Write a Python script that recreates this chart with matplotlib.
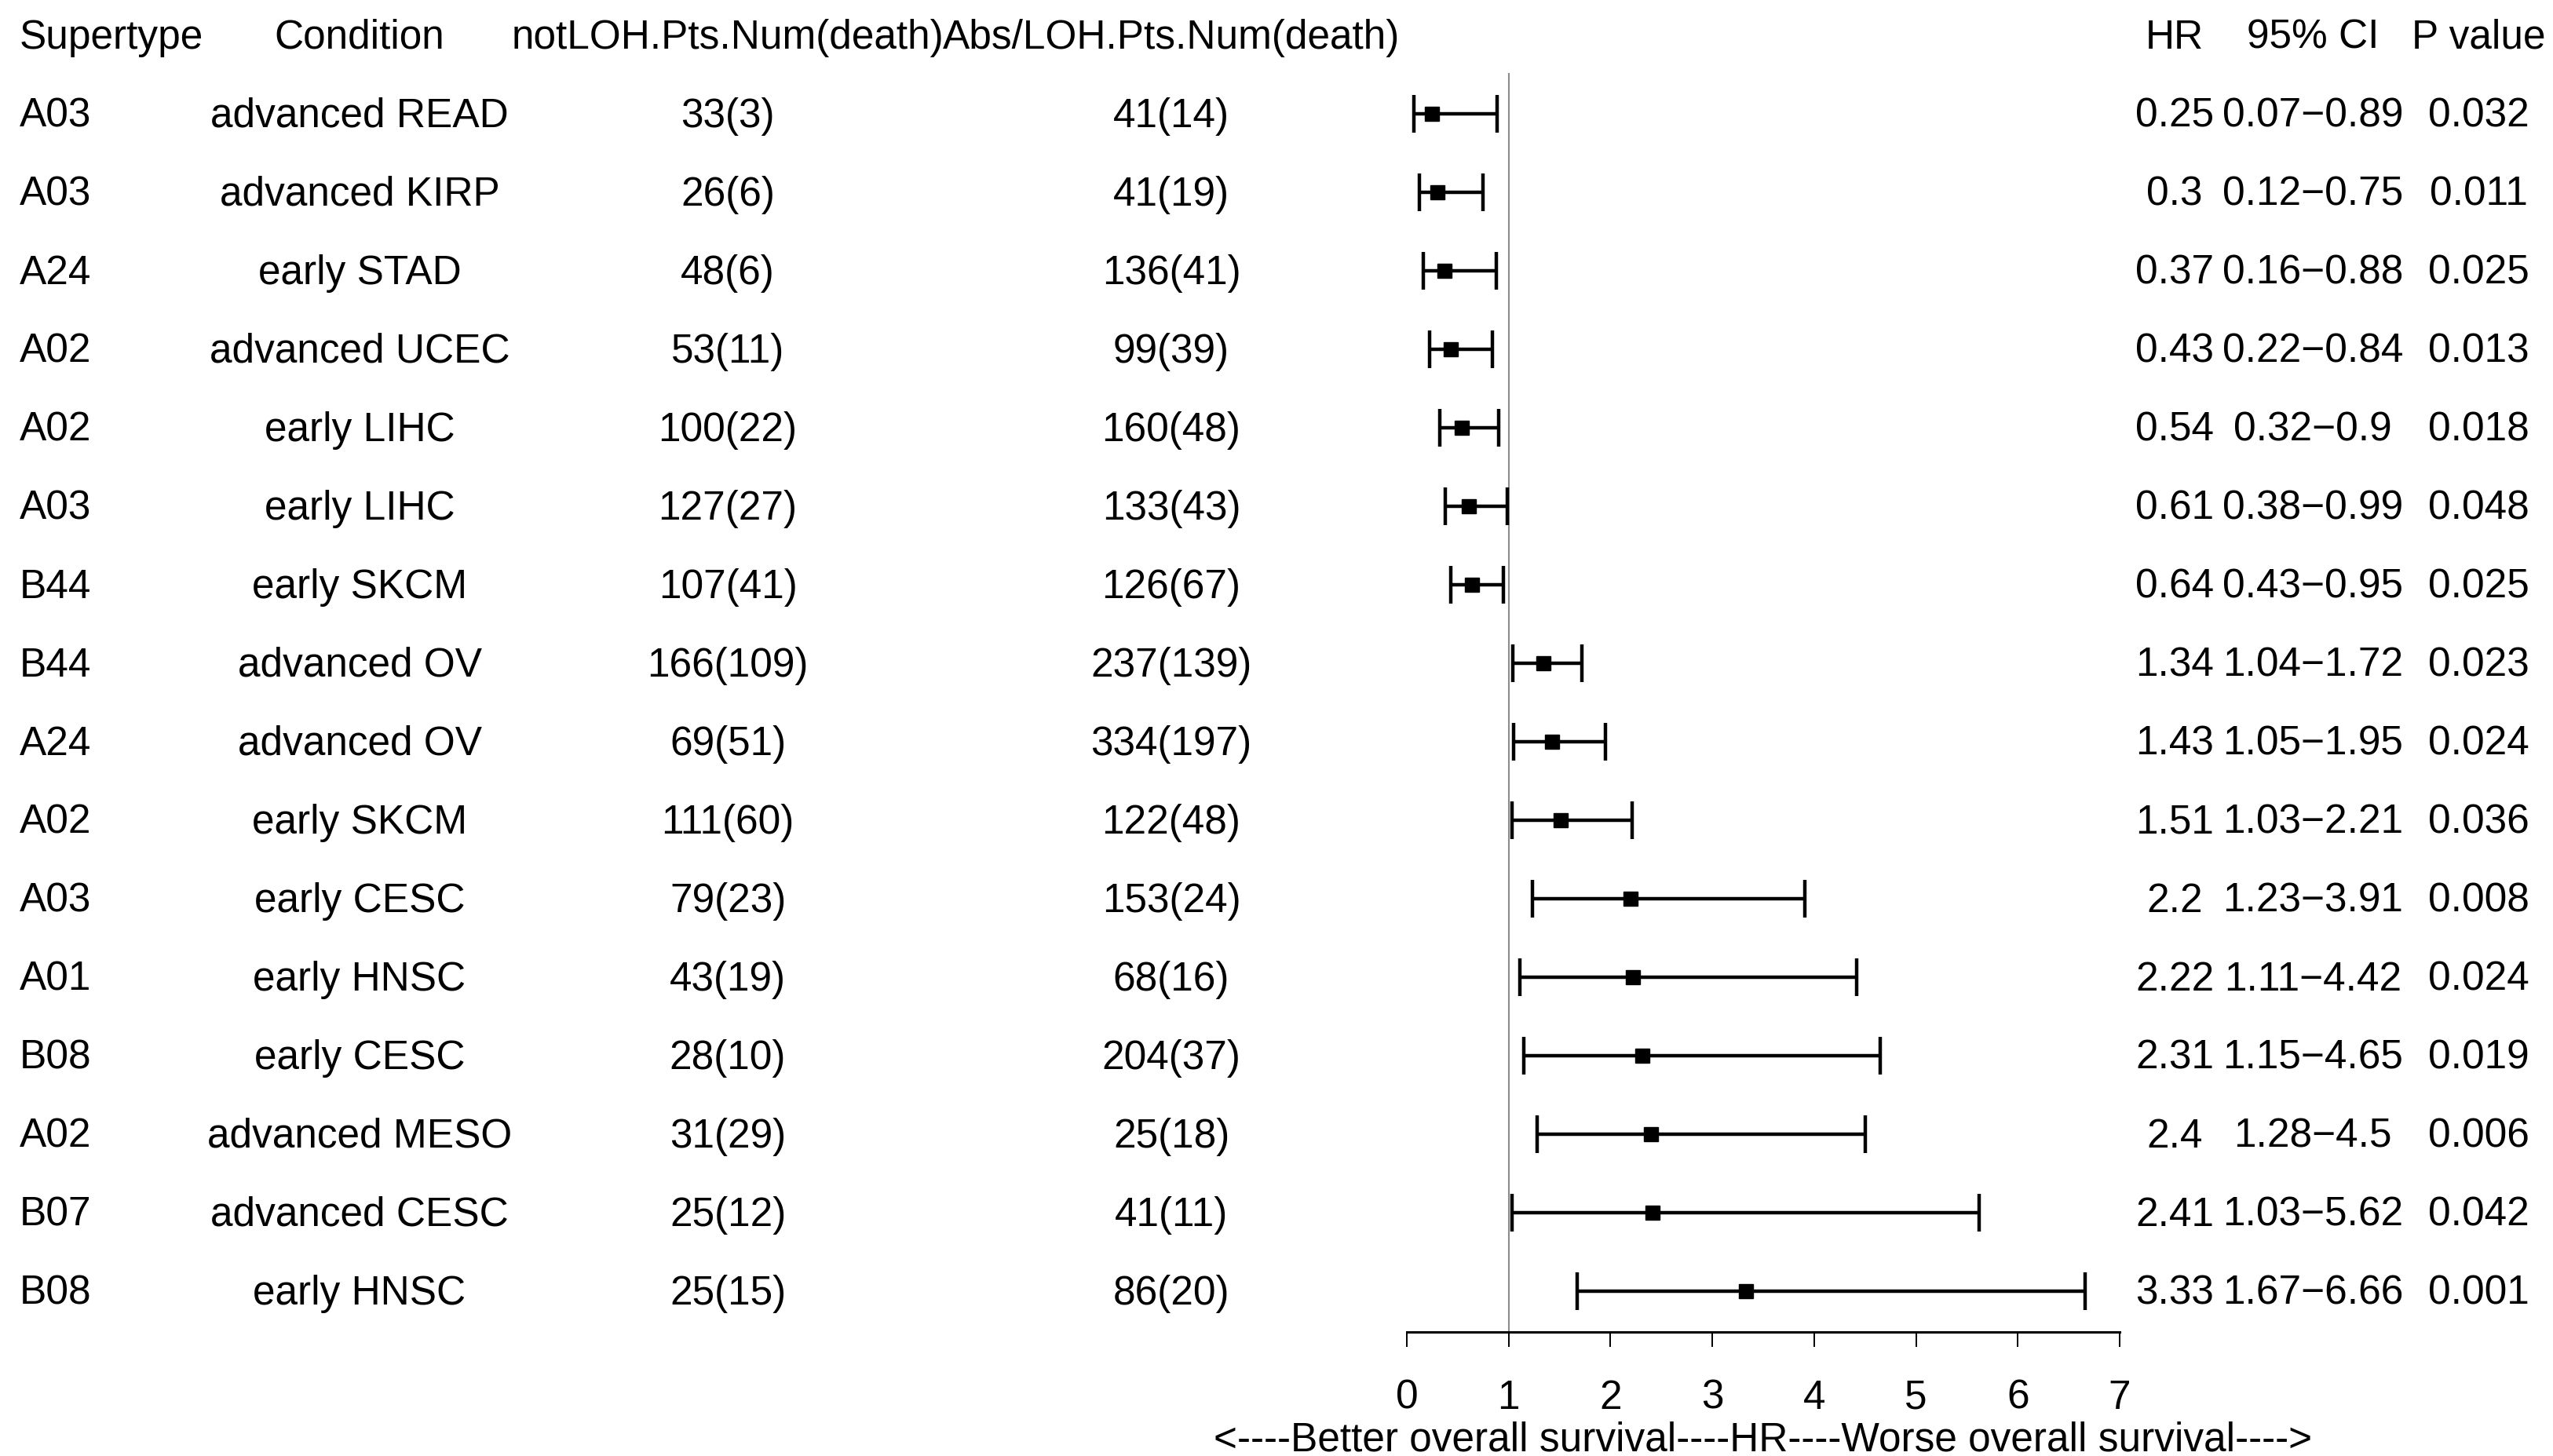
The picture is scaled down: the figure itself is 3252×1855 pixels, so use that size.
import matplotlib.pyplot as plt

plt.rcParams['font.family'] = ['Liberation Sans', 'DejaVu Sans']

supertype = ['A03', 'A03', 'A24', 'A02', 'A02', 'A03', 'B44', 'B44',
             'A24', 'A02', 'A03', 'A01', 'B08', 'A02', 'B07', 'B08']
condition = ['advanced READ', 'advanced KIRP', 'early STAD', 'advanced UCEC',
             'early LIHC', 'early LIHC', 'early SKCM', 'advanced OV',
             'advanced OV', 'early SKCM', 'early CESC', 'early HNSC',
             'early CESC', 'advanced MESO', 'advanced CESC', 'early HNSC']
not_loh = ['33(3)', '26(6)', '48(6)', '53(11)', '100(22)', '127(27)', '107(41)',
           '166(109)', '69(51)', '111(60)', '79(23)', '43(19)', '28(10)',
           '31(29)', '25(12)', '25(15)']
abs_loh = ['41(14)', '41(19)', '136(41)', '99(39)', '160(48)', '133(43)',
           '126(67)', '237(139)', '334(197)', '122(48)', '153(24)', '68(16)',
           '204(37)', '25(18)', '41(11)', '86(20)']
hr = [0.25, 0.3, 0.37, 0.43, 0.54, 0.61, 0.64, 1.34, 1.43, 1.51, 2.2, 2.22,
      2.31, 2.4, 2.41, 3.33]
ci_low = [0.07, 0.12, 0.16, 0.22, 0.32, 0.38, 0.43, 1.04, 1.05, 1.03, 1.23,
          1.11, 1.15, 1.28, 1.03, 1.67]
ci_high = [0.89, 0.75, 0.88, 0.84, 0.9, 0.99, 0.95, 1.72, 1.95, 2.21, 3.91,
           4.42, 4.65, 4.5, 5.62, 6.66]
pval = ['0.032', '0.011', '0.025', '0.013', '0.018', '0.048', '0.025', '0.023',
        '0.024', '0.036', '0.008', '0.024', '0.019', '0.006', '0.042', '0.001']
headers = ['Supertype', 'Condition', 'notLOH.Pts.Num(death)',
           'Abs/LOH.Pts.Num(death)', 'HR', '95% CI', 'P value']
ticks = [0, 1, 2, 3, 4, 5, 6, 7]

W, H = 3252, 1855
fs = 37
fig = plt.figure(figsize=(W / 100, H / 100), dpi=100)

# rows: pixel from top = 45 + 100*i, header is row 0
y_top = -0.45
y_bot = (H - 45) / 100
ax = fig.add_axes([0, 0, 1, 1])
ax.set_xlim(0, 1)
ax.set_ylim(y_bot, y_top)
ax.axis('off')

col_x = [25 / W, 458 / W, 927 / W, 1492 / W, 2770 / W, 2946 / W, 3157 / W]
col_ha = ['left', 'center', 'center', 'center', 'center', 'center', 'center']
dy = 0.035  # small nudge so text sits on the row centre like R does

for x, ha, h in zip(col_x, col_ha, headers):
    ax.text(x, 0 + dy, h, ha=ha, va='center', fontsize=fs)

rows = range(1, len(hr) + 1)
for i, st, cond, a, b, h, lo, hi, p in zip(rows, supertype, condition, not_loh,
                                           abs_loh, hr, ci_low, ci_high, pval):
    ci = f'{lo:g}\u2212{hi:g}'
    vals = [st, cond, a, b, f'{h:g}', ci, p]
    for x, ha, v in zip(col_x, col_ha, vals):
        ax.text(x, i + dy, v, ha=ha, va='center', fontsize=fs)

# forest panel
x0, x7 = 1792, 2700
axis_px = 1697
y_axis = (axis_px - 45) / 100
ax2 = fig.add_axes([x0 / W, 1 - axis_px / H, (x7 - x0) / W, axis_px / H])
ax2.set_xlim(0, 7)
ax2.set_ylim(y_axis, y_top)
ax2.patch.set_alpha(0)
for s in ['top', 'right', 'left']:
    ax2.spines[s].set_visible(False)
ax2.spines['bottom'].set_linewidth(2.2)
ax2.set_yticks([])
ax2.set_xticks(ticks)
ax2.tick_params(axis='x', direction='out', length=14, width=1.4,
                labelsize=fs, pad=29)

ax2.vlines(1, 0.48, y_axis, color='#8c8c8c', lw=1.5)
xerr = [[h - lo for h, lo in zip(hr, ci_low)],
        [hi - h for h, hi in zip(hr, ci_high)]]
ax2.errorbar(hr, list(rows), xerr=xerr, fmt='s', color='black', ms=13,
             elinewidth=3.2, capsize=17, capthick=3.2, clip_on=False)

ax2.set_xlabel('<----Better overall survival----HR----Worse overall survival---->',
               fontsize=fs, labelpad=3.5)

fig.savefig('out.png', dpi=100)
